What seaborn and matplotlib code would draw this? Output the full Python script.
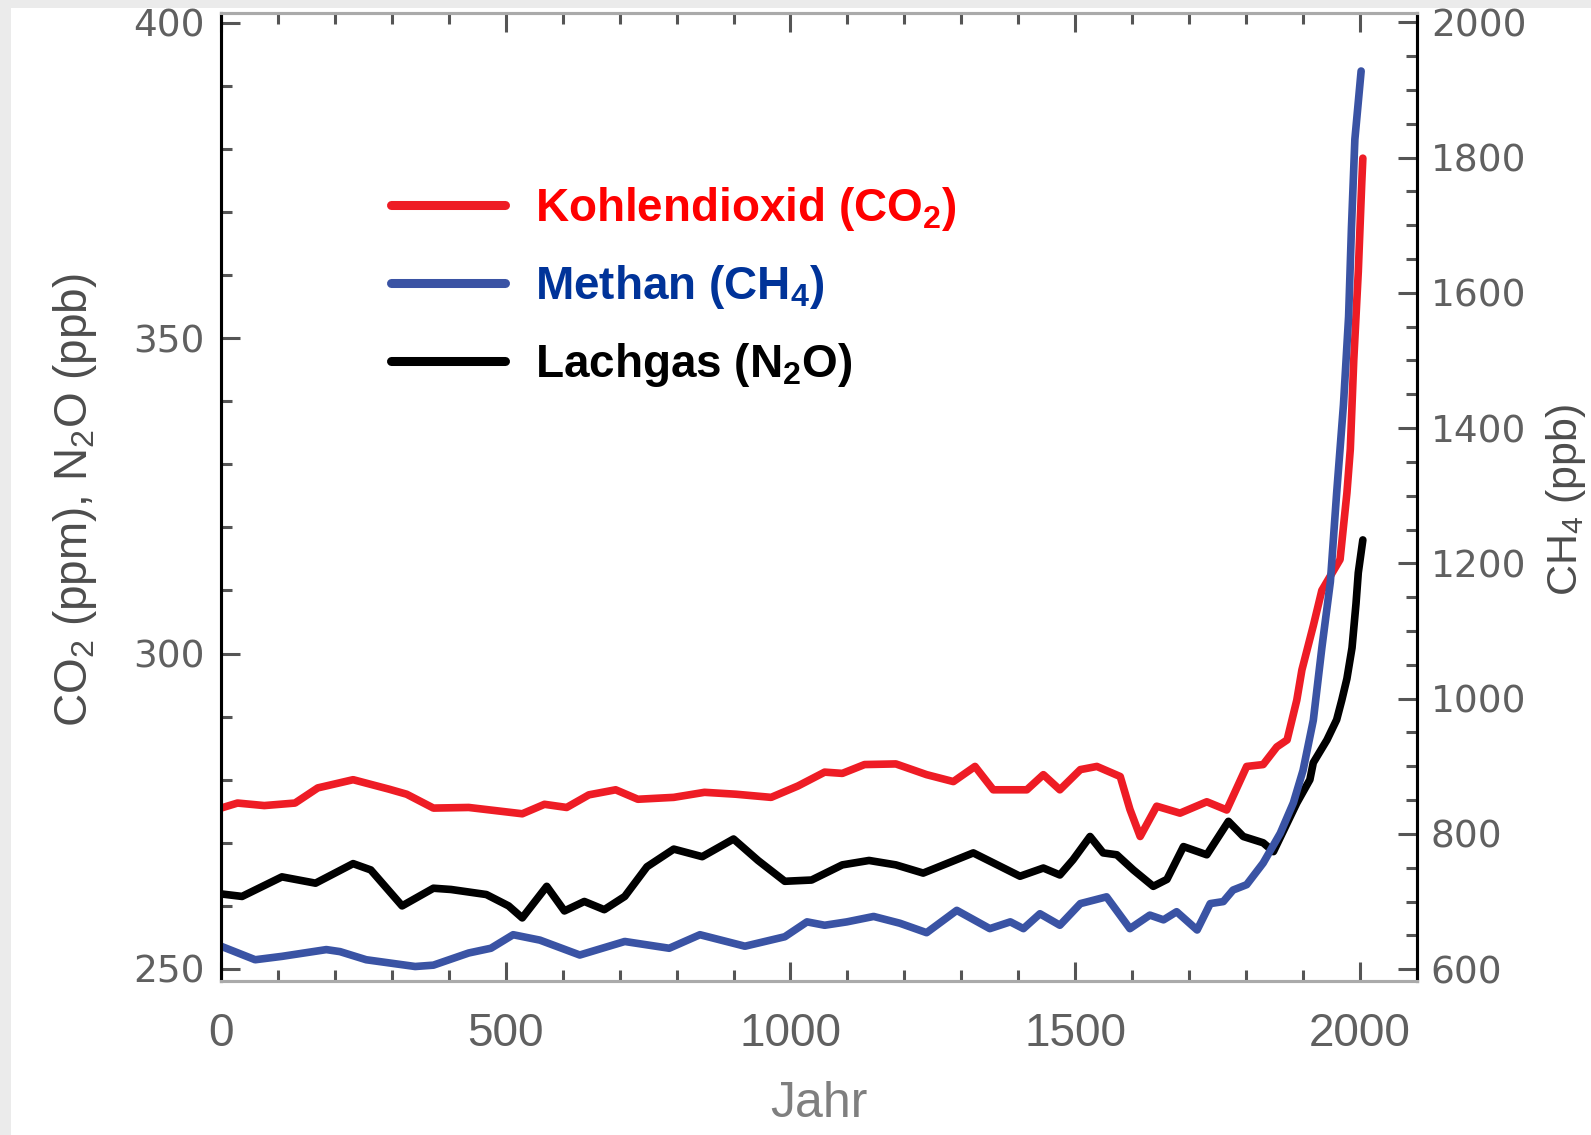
import numpy as np
import pandas as pd
import matplotlib
matplotlib.use("Agg")
import matplotlib.pyplot as plt
import seaborn as sns
from matplotlib.ticker import MultipleLocator
from matplotlib.patches import Rectangle

# values
co2_year = [0, 29, 76, 130, 170, 232, 295, 326, 373, 435, 482, 529, 568, 607, 646,
            693, 732, 795, 849, 904, 966, 1013, 1060, 1091, 1130, 1185, 1239, 1286,
            1324, 1356, 1415, 1444, 1473, 1509, 1538, 1579, 1596, 1614, 1643, 1684,
            1731, 1766, 1801, 1830, 1854, 1872, 1889, 1898, 1918, 1933, 1965, 1977,
            1983, 1989, 1997, 2003, 2005]
co2_ppm = [275.5, 276.3, 275.9, 276.3, 278.7, 280.0, 278.5, 277.7, 275.5, 275.6,
           275.1, 274.6, 276.1, 275.6, 277.6, 278.4, 276.9, 277.2, 278.0, 277.7,
           277.2, 279.0, 281.2, 281.0, 282.4, 282.5, 280.8, 279.7, 282.1, 278.4,
           278.4, 280.8, 278.4, 281.6, 282.1, 280.5, 275.3, 271.0, 275.8, 274.7,
           276.5, 275.2, 282.1, 282.4, 285.2, 286.3, 292.6, 297.4, 304.4, 310.0,
           314.9, 325.4, 332.4, 346.4, 360.5, 374.4, 378.5]

n2o_year = [0, 37, 107, 166, 232, 263, 318, 373, 404, 466, 505, 529, 572, 603, 638,
            673, 709, 748, 795, 845, 900, 943, 990, 1037, 1091, 1138, 1185, 1233,
            1321, 1403, 1444, 1473, 1496, 1526, 1549, 1573, 1602, 1637, 1661, 1690,
            1731, 1769, 1795, 1830, 1848, 1889, 1912, 1918, 1942, 1959, 1968, 1977,
            1986, 1993, 1997, 2005]
n2o_ppb = [261.9, 261.5, 264.6, 263.6, 266.7, 265.7, 260.0, 262.8, 262.6, 261.8,
           260.0, 258.1, 263.1, 259.2, 260.7, 259.4, 261.5, 266.2, 269.0, 267.8,
           270.6, 267.2, 263.9, 264.1, 266.5, 267.2, 266.5, 265.2, 268.4, 264.7,
           266.0, 264.9, 267.3, 271.0, 268.4, 268.1, 265.7, 263.1, 264.2, 269.4,
           268.1, 273.4, 271.0, 270.0, 268.6, 276.3, 280.0, 282.7, 286.3, 289.5,
           292.6, 296.0, 300.9, 307.9, 312.8, 318.0]

ch4_year = [0, 60, 107, 185, 209, 255, 341, 373, 435, 474, 513, 560, 630, 709, 787,
            841, 920, 990, 1029, 1060, 1099, 1146, 1192, 1239, 1292, 1350, 1386, 1409,
            1438, 1473, 1509, 1555, 1596, 1631, 1655, 1678, 1714, 1737, 1760, 1777,
            1801, 1830, 1860, 1883, 1900, 1918, 1933, 1948, 1959, 1971, 1980, 1985,
            1991, 2002]
ch4_ppb = [634, 614, 619, 629, 626, 614, 604, 606, 624, 631, 651, 643, 621, 641, 631,
           651, 634, 648, 670, 665, 670, 678, 668, 654, 687, 660, 670, 660, 682, 665,
           697, 707, 660, 680, 673, 685, 658, 697, 700, 717, 725, 757, 801, 846, 894,
           968, 1075, 1173, 1304, 1435, 1565, 1696, 1827, 1928]

labels = ["Kohlendioxid (CO$\\mathregular{_2}$)", "Methan (CH$\\mathregular{_4}$)",
          "Lachgas (N$\\mathregular{_2}$O)"]
line_colors = ["#ee1c25", "#3a53a4", "#000000"]
text_colors = ["#ff0000", "#003399", "#000000"]

sns.set_style("white")
plt.rcParams["font.family"] = ["DejaVu Sans"]

fig = plt.figure(figsize=(15.91, 11.35), dpi=100, facecolor="#ebebeb")
fig.patches.append(Rectangle((0.0069, 0), 1, 0.993, transform=fig.transFigure,
                             facecolor="white", edgecolor="none", zorder=-5))
ax = fig.add_axes([0.1389, 0.1357, 0.7517, 0.8528])
ax.patch.set_alpha(0)
ax2 = ax.twinx()

sns.lineplot(x=n2o_year, y=n2o_ppb, ax=ax, color=line_colors[2], lw=5.5, legend=False)
sns.lineplot(x=co2_year, y=co2_ppm, ax=ax, color=line_colors[0], lw=5.5, legend=False)
sns.lineplot(x=ch4_year, y=ch4_ppb, ax=ax2, color=line_colors[1], lw=5.5, legend=False)

ax.set_xlim(0, 2100)
ax.set_ylim(248.1, 401.5)
ax2.set_ylim(582.6, 2013.7)

ax.xaxis.set_major_locator(MultipleLocator(500))
ax.xaxis.set_minor_locator(MultipleLocator(100))
ax.yaxis.set_major_locator(MultipleLocator(50))
ax.yaxis.set_minor_locator(MultipleLocator(10))
ax2.yaxis.set_major_locator(MultipleLocator(200))
ax2.yaxis.set_minor_locator(MultipleLocator(50))

ax.tick_params(axis="x", which="both", direction="in", top=True, bottom=True,
               width=2.2, color="#555555")
ax.tick_params(axis="y", which="both", direction="in", left=True, right=False,
               width=2.2, color="#555555")
ax2.tick_params(axis="y", which="both", direction="in", right=True,
                width=2.2, color="#555555")
for a in (ax, ax2):
    a.tick_params(which="major", length=14)
    a.tick_params(which="minor", length=8)
ax.tick_params(axis="x", which="major", pad=22, labelsize=33, labelcolor="#606060")
ax.tick_params(axis="y", which="major", pad=12, labelsize=27, labelcolor="#606060")
ax2.tick_params(axis="y", which="major", pad=10, labelsize=27, labelcolor="#606060")
for t in ax.get_xticklabels():
    t.set_family("Liberation Sans")

for a in (ax, ax2):
    for side in ("left", "right"):
        a.spines[side].set_color("black")
        a.spines[side].set_linewidth(2.2)
    for side in ("top", "bottom"):
        a.spines[side].set_color("#aaaaaa")
        a.spines[side].set_linewidth(2.2)

ax.set_xlabel("Jahr", family="Liberation Sans", fontsize=36, color="#7f7f7f")
ax.xaxis.set_label_coords(0.5, -0.103)
ax.set_ylabel("CO$\\mathregular{_2}$ (ppm), N$\\mathregular{_2}$O (ppb)",
              family="Liberation Sans", fontsize=33, color="#4d4d4d")
ax.yaxis.set_label_coords(-0.1016, 0.497)
ax2.set_ylabel("CH$\\mathregular{_4}$ (ppb)", family="Liberation Sans", fontsize=31,
               color="#4d4d4d", rotation=90)
ax2.yaxis.set_label_coords(1.106, 0.497)

handles = [ax.lines[1], ax2.lines[0], ax.lines[0]]
leg = ax2.legend(handles, labels, loc="upper left", bbox_to_anchor=(0.142, 0.822),
                 frameon=False, prop=dict(family="Liberation Sans", weight="bold", size=33),
                 labelcolor=text_colors, handlelength=2.5, handletextpad=0.65,
                 labelspacing=0.65, borderpad=0, borderaxespad=0)
for ln in leg.get_lines():
    ln.set_linewidth(6.5)

fig.savefig("out.png", dpi=100, facecolor=fig.get_facecolor())
